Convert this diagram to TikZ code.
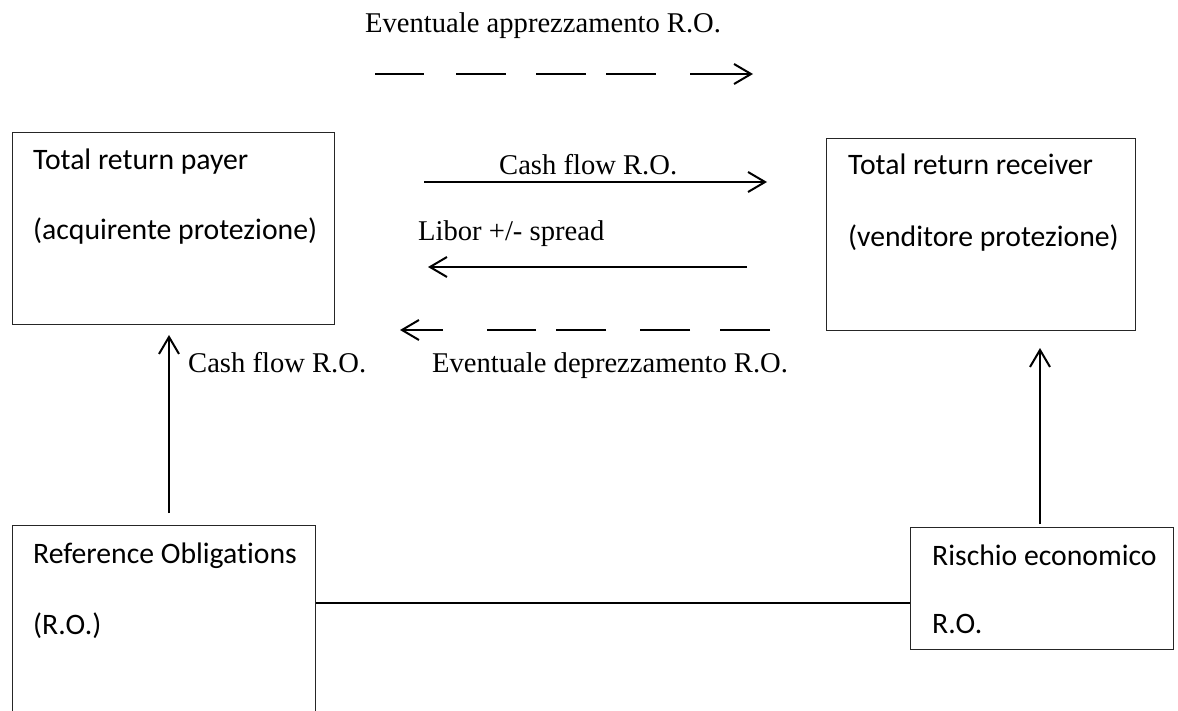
\documentclass[tikz,border=0pt]{standalone}
\usepackage{fontspec}
\setmainfont{Liberation Serif}
\newfontfamily\boxfont[Ligatures=NoCommon]{Carlito}
\usetikzlibrary{arrows.meta}
\begin{document}
\begin{tikzpicture}[x=1pt,y=-1pt,
  party/.style={draw=black!85, line width=1.3pt, rectangle, inner sep=0pt, anchor=north west},
  boxtext/.style={anchor=base west, inner sep=0pt, font=\boxfont\fontsize{29.7}{34}\selectfont},
  flowtext/.style={anchor=base west, inner sep=0pt, font=\fontsize{28.6}{34}\selectfont},
  flow/.style={line width=2pt, -{Straight Barb[length=17pt,width=20pt,line width=2pt]}},
  link/.style={line width=2pt},
  dashfwd/.style={dash pattern=on 49pt off 32pt on 50pt off 30pt on 50pt off 20pt on 50pt off 34pt on 200pt},
  dashback/.style={dash pattern=on 50pt off 30pt on 50pt off 34pt on 50pt off 20pt on 49pt off 44pt on 200pt}]
\useasboundingbox (0,0) rectangle (1178,711);
\clip (0,0) rectangle (1178,711);

% parties
\node[party, minimum width=322pt, minimum height=192pt] (payer) at (12,132) {};
\node[party, minimum width=309pt, minimum height=192pt] (receiver) at (826,138) {};
\node[party, minimum width=303pt, minimum height=200pt] (ro) at (12,525) {};
\node[party, minimum width=263pt, minimum height=122pt] (risk) at (910,527) {};

\node[boxtext] (payer1) at (33,170) {Total return payer};
\node[boxtext] (payer2) at (33,240) {(acquirente protezione)};
\node[boxtext] (recv1) at (848,175) {Total return receiver};
\node[boxtext] (recv2) at (848,247) {(venditore protezione)};
\node[boxtext] (ro1) at (33,563) {Reference Obligations};
\node[boxtext] (ro2) at (33,634) {(R.O.)};
\node[boxtext] (risk1) at (932,565) {Rischio economico};
\node[boxtext] (risk2) at (932,633) {R.O.};

% flow labels
\node[flowtext] (lapp) at (365,33) {Eventuale apprezzamento R.O.};
\node[flowtext] (lcash) at (499,175) {Cash flow R.O.};
\node[flowtext] (llibor) at (418,241) {Libor +/- spread};
\node[flowtext] (lcashro) at (188,372) {Cash flow R.O.};
\node[flowtext] (ldep) at (432,372) {Eventuale deprezzamento R.O.};

% end points of the flows between the parties
\coordinate (appA) at (375,74);
\coordinate (appB) at (753,74);
\coordinate (cashA) at (424,182);
\coordinate (cashB) at (767,182);
\coordinate (libA) at (747,267);
\coordinate (libB) at (428,267);
\coordinate (depA) at (770,330);
\coordinate (depB) at (400,330);
\coordinate (upA) at (169,513);
\coordinate (upB) at (169,335);
\coordinate (riskA) at (1040,524);
\coordinate (riskB) at (1040,348);
\coordinate (lnk) at (0,603);

\draw[flow, dashfwd] (appA) -- (appB);
\draw[flow] (cashA) -- (cashB);
\draw[flow] (libA) -- (libB);
\draw[flow, dashback] (depA) -- (depB);
\draw[flow] (upA) -- (upB);
\draw[flow] (riskA) -- (riskB);
\draw[link] (ro.east |- lnk) -- (risk.west |- lnk);
\end{tikzpicture}
\end{document}
